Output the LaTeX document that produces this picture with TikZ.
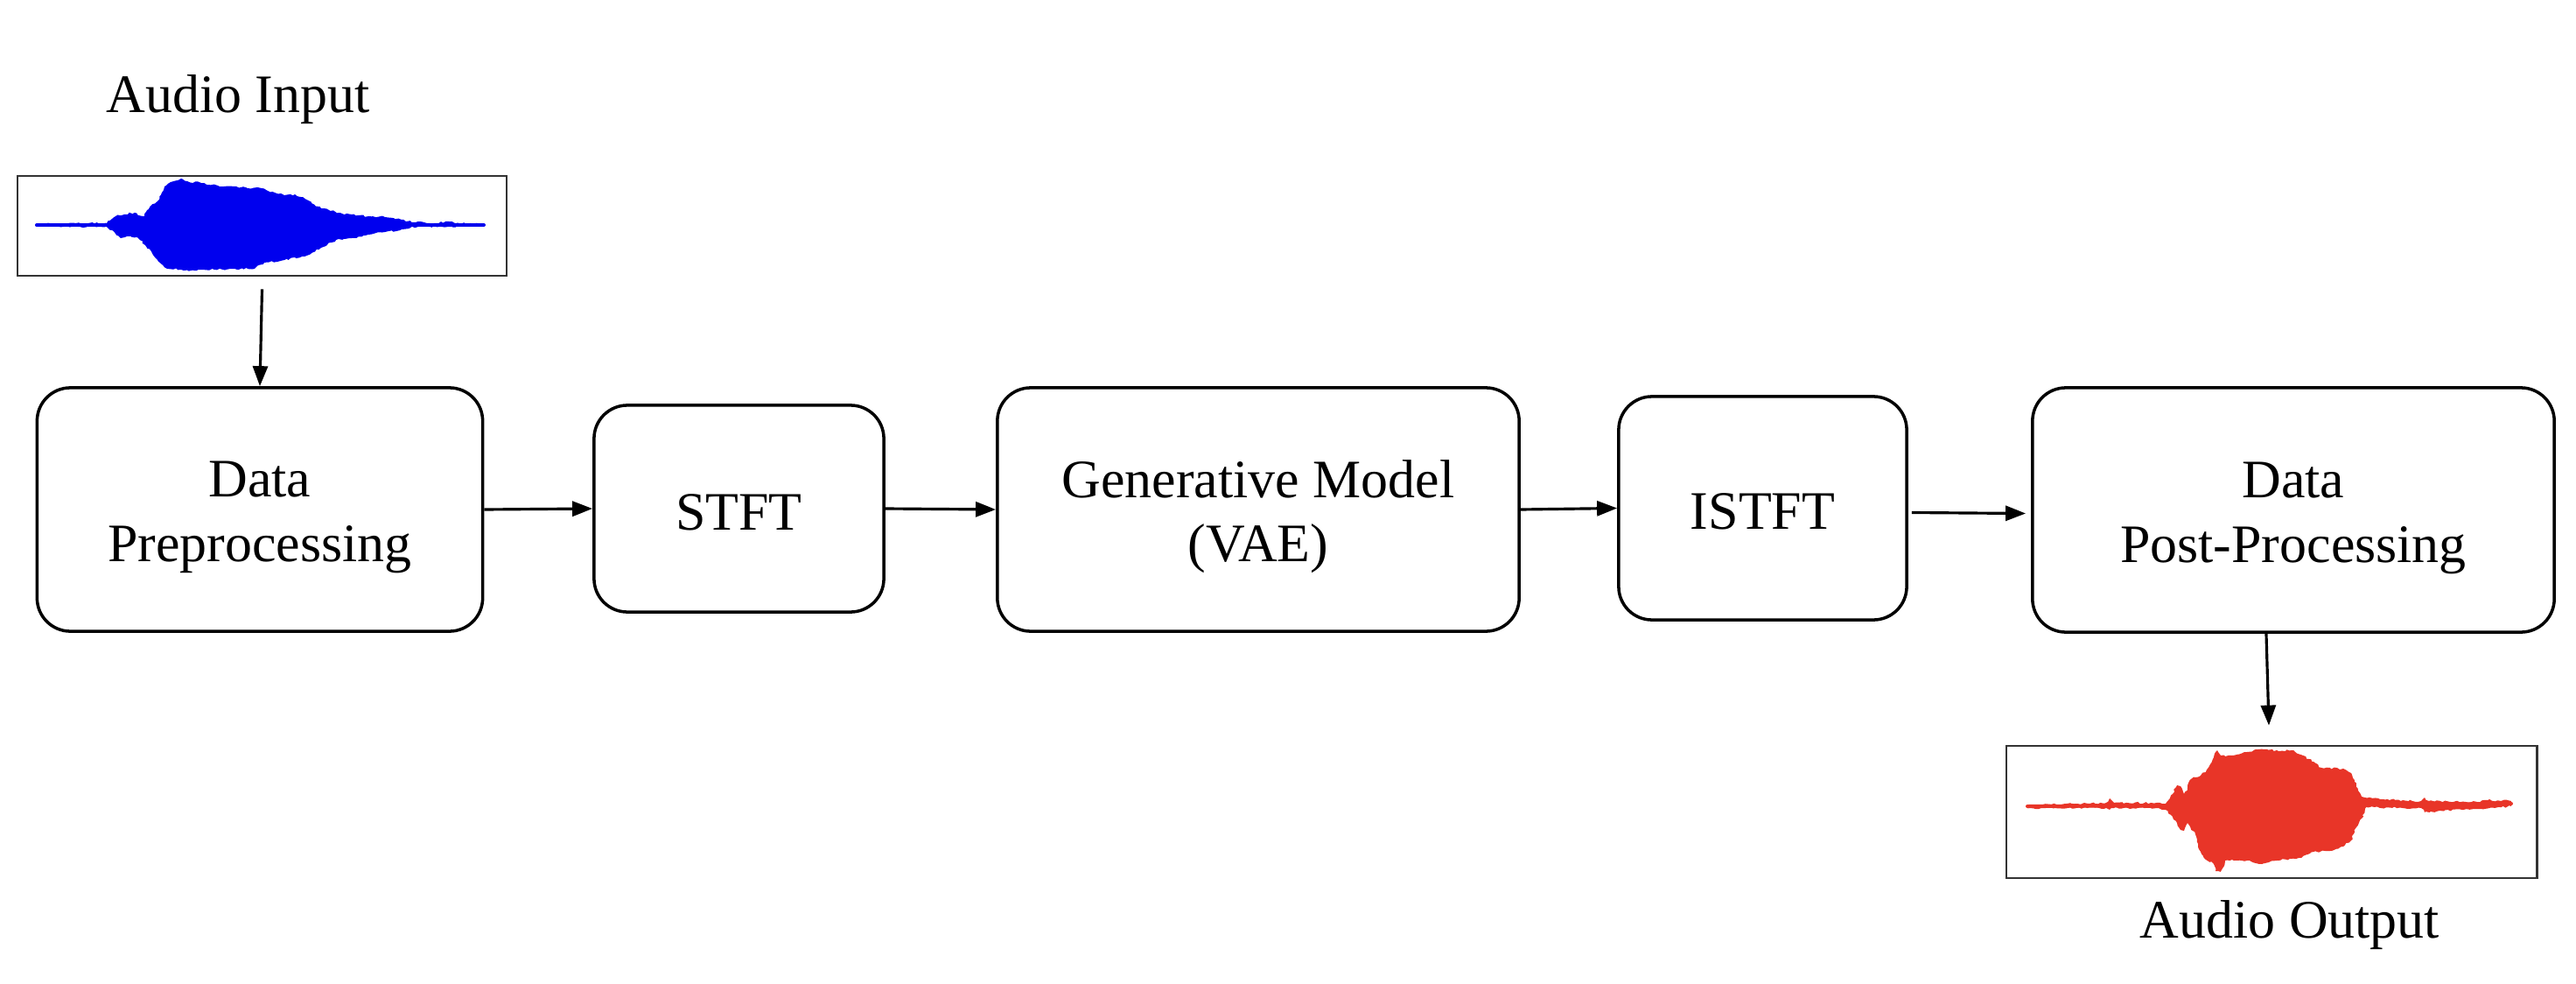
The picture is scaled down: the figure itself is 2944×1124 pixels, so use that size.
\documentclass[tikz,border=0pt]{standalone}
\usepackage{fontspec}
\setmainfont{Liberation Serif}
\usetikzlibrary{arrows.meta,decorations.pathmorphing}
\definecolor{wblue}{RGB}{0,0,238}
\definecolor{wred}{RGB}{232,53,40}
\newcommand{\twoup}{\rule{0pt}{0.59cm}}
\newcommand{\oneup}{\rule{0pt}{0.49cm}}
\begin{document}
\begin{tikzpicture}[x=0.01cm,y=-0.01cm,
  txt/.style={font=\fontsize{17.6pt}{21pt}\selectfont},
  proc/.style={txt, draw, line width=1pt, rounded corners=0.38cm, align=center, inner sep=0pt},
  wavebox/.style={draw=black!80, line width=0.75pt, inner sep=0pt},
  jag/.style={decorate, decoration={random steps, segment length=0.03cm, amplitude=0.012cm}},
  arr/.style={line width=0.9pt, -{Triangle[length=0.23cm,width=0.17cm]}},
  lbl/.style={txt, anchor=base, inner sep=0pt}]
\useasboundingbox (0,0) rectangle (2944,1124);
\pgfmathsetseed{7}

% labels
\node[lbl] (tin) at (272,128) {Audio Input};
\node[lbl] (tout) at (2617,1071) {Audio Output};

% waveform boxes
\node[wavebox, minimum width=5.59cm, minimum height=1.14cm] (win) at (299.5,258) {};
\node[wavebox, minimum width=6.06cm, minimum height=1.51cm] (wout) at (2596,927.5) {};

% blue waveform
\draw[wblue, line width=0.04cm, line cap=round] (42,257) -- (553,257);
\fill[wblue, jag] (42,256) -- (122,255) -- (132,247) -- (142,245) -- (153,243) -- (165,247) -- (168,240)
 -- (180,230) -- (188,213) -- (195,208) -- (207,204) -- (214,207) -- (230,209) -- (249,212)
 -- (268,213) -- (283,215) -- (299,215) -- (306,218) -- (325,223) -- (337,222) -- (344,225)
 -- (356,232) -- (367,238) -- (387,243) -- (402,245) -- (421,247) -- (440,248) -- (459,251)
 -- (475,254) -- (498,255) -- (513,253) -- (520,255) -- (553,256)
 -- (553,258) -- (478,259) -- (459,262) -- (440,265) -- (421,268) -- (402,272) -- (387,273)
 -- (367,283) -- (348,293) -- (325,297) -- (302,300) -- (291,307) -- (268,307) -- (245,308)
 -- (222,309) -- (207,308) -- (191,307) -- (180,297) -- (166,280) -- (157,271) -- (145,270)
 -- (138,272) -- (132,267) -- (122,259) -- (42,258) -- cycle;

% red waveform
\draw[wred, line width=0.04cm, line cap=round] (2317,921) -- (2870,918);
\fill[wred, jag] (2317,920) -- (2407,917) -- (2411,912) -- (2416,917) -- (2458,917) -- (2475,918)
 -- (2483,907) -- (2488,897) -- (2492,898) -- (2496,907) -- (2500,900) -- (2504,890) -- (2509,888)
 -- (2521,882) -- (2526,873) -- (2530,865) -- (2534,857) -- (2538,863) -- (2551,863) -- (2568,859)
 -- (2581,856) -- (2602,857) -- (2619,857) -- (2632,863) -- (2644,870) -- (2653,877) -- (2678,878)
 -- (2687,883) -- (2691,893) -- (2695,903) -- (2699,910) -- (2720,913) -- (2746,914) -- (2767,915)
 -- (2771,911) -- (2776,915) -- (2831,916) -- (2843,914) -- (2870,915)
 -- (2870,921) -- (2831,924) -- (2788,926) -- (2771,928) -- (2767,923) -- (2746,923) -- (2704,922)
 -- (2699,935) -- (2691,950) -- (2687,960) -- (2678,967) -- (2661,972) -- (2644,973) -- (2627,980)
 -- (2602,983) -- (2585,987) -- (2568,983) -- (2551,982) -- (2543,983) -- (2538,996) -- (2532,995)
 -- (2530,987) -- (2521,982) -- (2513,970) -- (2509,953) -- (2500,940) -- (2496,949) -- (2492,948)
 -- (2488,940) -- (2483,933) -- (2475,925) -- (2458,923) -- (2416,923) -- (2411,925) -- (2407,923)
 -- (2317,923) -- cycle;

% process boxes
\node[proc, minimum width=5.09cm, minimum height=2.78cm] (dp) at (297,582) {\twoup Data\\Preprocessing};
\node[proc, minimum width=3.31cm, minimum height=2.36cm] (stft) at (844.5,581) {\oneup STFT};
\node[proc, minimum width=5.96cm, minimum height=2.78cm] (gen) at (1438,582) {\twoup Generative Model\\(VAE)};
\node[proc, minimum width=3.29cm, minimum height=2.55cm] (istft) at (2014.5,580.5) {\oneup ISTFT};
\node[proc, minimum width=5.96cm, minimum height=2.79cm] (post) at (2621,582.5) {\twoup Data\\Post-Processing};

% connectors
\draw[arr] ([yshift=-0.14cm]win.south) -- (dp.north);
\draw[arr] (dp.east) -- (stft.west);
\draw[arr] (stft.east) -- (gen.west);
\draw[arr] (gen.east) -- (istft.west);
\draw[arr] ([xshift=0.04cm,yshift=-0.05cm]istft.east) -- ([xshift=-0.06cm,yshift=-0.04cm]post.west);
\draw[arr] ([xshift=-0.31cm]post.south) -- ([xshift=-0.03cm,yshift=0.22cm]wout.north);
\end{tikzpicture}
\end{document}
